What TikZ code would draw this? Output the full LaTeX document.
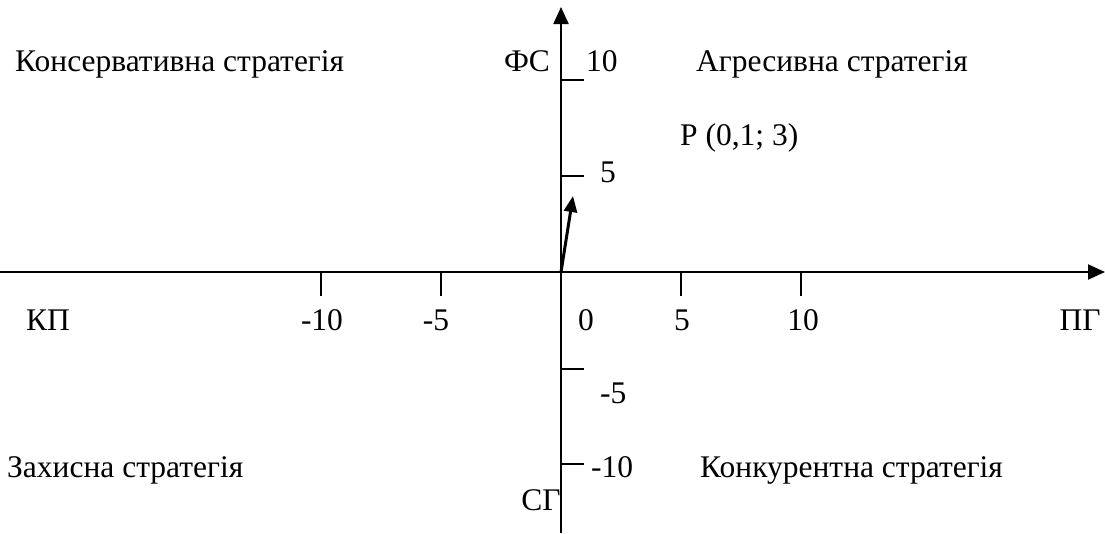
\documentclass[tikz,border=0pt]{standalone}
\usepackage{fontspec}
\setmainfont{Liberation Serif}
\usetikzlibrary{arrows.meta}
\begin{document}
\begin{tikzpicture}[x=1pt,y=-1pt,
  lbl/.style={inner sep=0pt,font=\fontsize{31.5}{36}\selectfont},
  axis/.style={line width=2.2pt,-{Triangle[length=17pt,width=15pt]}},
  tick/.style={line width=2pt},
  vec/.style={line width=3pt,-{Triangle[length=16pt,width=13pt]}}]
\useasboundingbox (0,0) rectangle (1105,533);
\coordinate (O) at (561,272);
\coordinate (xl) at (0,272);
\coordinate (xr) at (1105,272);
\coordinate (yb) at (561,533);
\coordinate (yt) at (561,7);
\coordinate (P) at (573,196);
\draw[axis] (xl) -- (xr);
\draw[axis] (yb) -- (yt);
% x ticks
\foreach \x/\n in {321/a,441/b,681/c,801/d}{
  \coordinate (tx\n) at (\x,272);
  \draw[tick] (tx\n) -- ++(0,24);
}
% y ticks
\foreach \y/\n in {80/a,176/b,369/c,464/d}{
  \coordinate (ty\n) at (561,\y);
  \draw[tick] (ty\n) -- ++(23,0);
}
\draw[vec] (O) -- (P);
% labels
\node[lbl,anchor=base west] (cons) at (15,71) {Консервативна стратегія};
\node[lbl,anchor=base] (fs) at (527,71) {ФС};
\node[lbl,anchor=base west] (y10) at (586,71) {10};
\node[lbl,anchor=base west] (agr) at (696,71) {Агресивна стратегія};
\node[lbl,anchor=base west] (pl) at (680,145) {P (0,1; 3)};
\node[lbl,anchor=base west] (y5) at (600,182) {5};
\node[lbl,anchor=base west] (kp) at (26,330) {КП};
\node[lbl,anchor=base] (xm10) at (322,330) {-10};
\node[lbl,anchor=base] (xm5) at (436,330) {-5};
\node[lbl,anchor=base] (x0) at (586,330) {0};
\node[lbl,anchor=base] (x5) at (682,330) {5};
\node[lbl,anchor=base] (x10) at (803,330) {10};
\node[lbl,anchor=base] (pg) at (1080,330) {ПГ};
\node[lbl,anchor=base west] (ym5) at (600,403) {-5};
\node[lbl,anchor=base west] (ym10) at (591,477) {-10};
\node[lbl,anchor=base west] (zah) at (7,477) {Захисна стратегія};
\node[lbl,anchor=base west] (konk) at (700,477) {Конкурентна стратегія};
\node[lbl,anchor=base] (sg) at (541,510) {СГ};
\end{tikzpicture}
\end{document}
